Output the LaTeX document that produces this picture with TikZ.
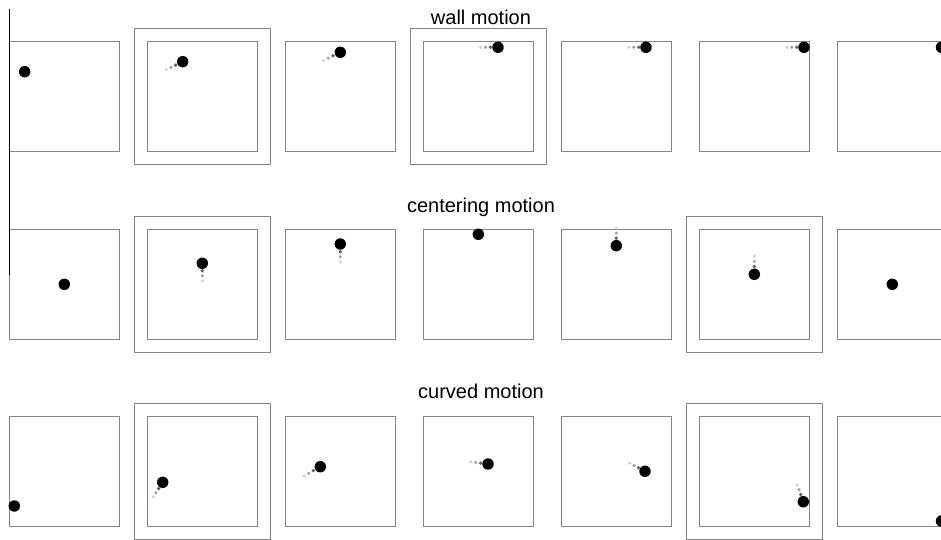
\documentclass[tikz,border=0pt]{standalone}
\usepackage{fontspec}
\setmainfont{Liberation Sans}
\begin{document}
\begin{tikzpicture}[x=0.75pt,y=-0.75pt,
    frame/.style={draw=black!48,line width=0.8pt},
    title/.style={anchor=base,font=\fontsize{15}{18}\selectfont}]
    \clip (0,0) rectangle (941,539);
    \foreach \ry in {41.7,229.3,416.7} {
        \foreach \c in {0,...,6} {
            \draw[frame] (9.5+138*\c,\ry) rectangle ++(110,110);
        }
    }
    % outer frames
    \foreach \c/\ry in {1/41.7,3/41.7,1/229.3,5/229.3,1/416.7,5/416.7} {
        \draw[frame] (9.5+138*\c-13,\ry-13) rectangle ++(136,136);
    }
    \draw[black,line width=0.9pt] (9.5,9) -- (9.5,275);
    \node[title] (wall) at (481,24) {wall motion};
    \node[title] (centering) at (481,212.7) {centering motion};
    \node[title] (curved) at (481,398.7) {curved motion};
    % dots with trails: position / step back
    \foreach \x/\y/\u/\v in {182.7/61.7/-4.7/2.3, 340.3/52.3/-4.85/2.35,
        498/47.3/-5/0, 646/47.3/-4.85/0, 804/47.3/-4.85/0,
        202.3/263.3/0/5, 340.3/244/0/5.15, 616.3/245.7/0/-5, 754.3/274.3/0/-5.15,
        162.7/482.3/-2.7/4.2, 320.3/466.7/-4.65/2.65, 488/464/-4.9/-0.6,
        645/471.3/-4.35/-2.35, 803.3/501.7/-1.7/-4.8} {
        \fill[black!18] (\x+3.5*\u,\y+3.5*\v) circle (1.3pt);
        \fill[black!38] (\x+2.5*\u,\y+2.5*\v) circle (1.3pt);
        \fill[black!62] (\x+1.5*\u,\y+1.5*\v) circle (1.4pt);
        \fill (\x,\y) circle (4.3pt);
    }
    \foreach \x/\y in {24.7/71.7, 941.5/47.3, 64.3/284.3, 478.3/234.3,
        892.3/284.3, 14.3/506, 941.5/521} {
        \fill (\x,\y) circle (4.3pt);
    }
\end{tikzpicture}
\end{document}
